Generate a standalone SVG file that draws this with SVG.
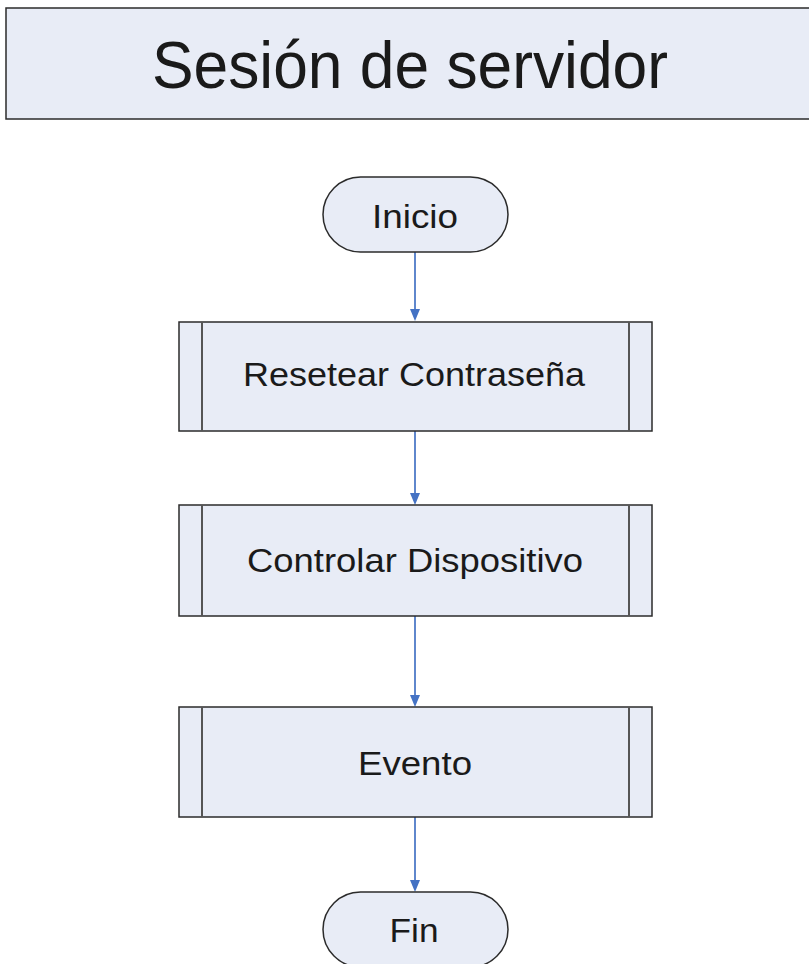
<svg xmlns="http://www.w3.org/2000/svg" width="809" height="964" viewBox="0 0 809 964">
  <style>
    .shape { fill: #e8ecf6; stroke: #2b2b2b; stroke-width: 1.5; }
    .bar { stroke: #555; stroke-width: 2; fill: none; }
    .label { font-family: "Liberation Sans", Arial, sans-serif; fill: #1a1a1a; text-anchor: middle; }
    .node { font-size: 34px; }
    .title { font-size: 66px; }
    .wire { stroke: #4472c4; stroke-width: 1.7; fill: none; }
    .head { fill: #4472c4; }
  </style>
  <rect width="809" height="964" fill="#ffffff"/>

  <!-- title banner -->
  <g id="title">
    <rect class="shape" x="6" y="8" width="815" height="111"/>
    <text class="label title" x="410" y="88" textLength="516" lengthAdjust="spacingAndGlyphs">Sesión de servidor</text>
  </g>

  <!-- connectors -->
  <g id="connectors">
    <path class="wire" d="M415,252 V309"/>
    <path class="head" d="M410,309 L420,309 L415,321 Z"/>
    <path class="wire" d="M415,431 V493"/>
    <path class="head" d="M410,493 L420,493 L415,505 Z"/>
    <path class="wire" d="M415,616 V695"/>
    <path class="head" d="M410,695 L420,695 L415,707 Z"/>
    <path class="wire" d="M415,817 V880"/>
    <path class="head" d="M410,880 L420,880 L415,892 Z"/>
  </g>

  <!-- start terminal -->
  <g id="inicio">
    <rect class="shape" x="323" y="177" width="185" height="75" rx="37.5" ry="37.5"/>
    <text class="label node" x="415" y="228" textLength="86" lengthAdjust="spacingAndGlyphs">Inicio</text>
  </g>

  <!-- predefined process: reset password -->
  <g id="resetear">
    <rect class="shape" x="179" y="322" width="473" height="109"/>
    <line class="bar" x1="202" y1="322" x2="202" y2="431"/>
    <line class="bar" x1="629" y1="322" x2="629" y2="431"/>
    <text class="label node" x="414" y="386" textLength="342" lengthAdjust="spacingAndGlyphs">Resetear Contraseña</text>
  </g>

  <!-- predefined process: device control -->
  <g id="controlar">
    <rect class="shape" x="179" y="505" width="473" height="111"/>
    <line class="bar" x1="202" y1="505" x2="202" y2="616"/>
    <line class="bar" x1="629" y1="505" x2="629" y2="616"/>
    <text class="label node" x="415" y="572" textLength="336" lengthAdjust="spacingAndGlyphs">Controlar Dispositivo</text>
  </g>

  <!-- predefined process: event -->
  <g id="evento">
    <rect class="shape" x="179" y="707" width="473" height="110"/>
    <line class="bar" x1="202" y1="707" x2="202" y2="817"/>
    <line class="bar" x1="629" y1="707" x2="629" y2="817"/>
    <text class="label node" x="415" y="775" textLength="114" lengthAdjust="spacingAndGlyphs">Evento</text>
  </g>

  <!-- end terminal -->
  <g id="fin">
    <rect class="shape" x="323" y="892" width="185" height="75" rx="37.5" ry="37.5"/>
    <text class="label node" x="414" y="942" textLength="49" lengthAdjust="spacingAndGlyphs">Fin</text>
  </g>
</svg>
